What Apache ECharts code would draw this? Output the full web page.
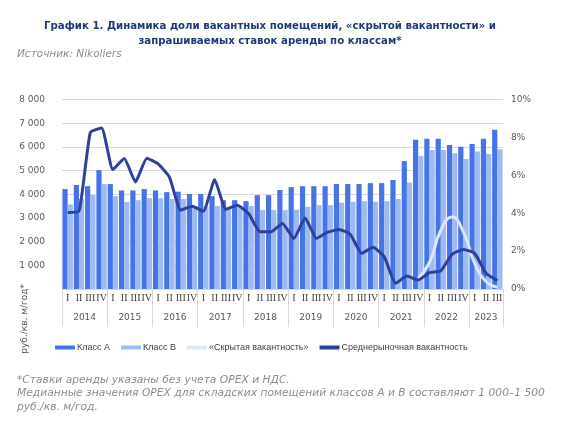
<!DOCTYPE html>
<html>
<head>
<meta charset="utf-8">
<script src="https://cdn.jsdelivr.net/npm/echarts@6/dist/echarts.min.js"></script>
<style>
    html, body { margin: 0; padding: 0; background: #fff; }
    #chart { width: 567px; height: 425px; }
</style>
</head>
<body>
<div id="chart"></div>
<script>
// кварталы и годы
const years = ["2014", "2015", "2016", "2017", "2018", "2019", "2020", "2021", "2022", "2023"];
const quarters = [
    "I", "II", "III", "IV", "I", "II", "III", "IV", "I", "II", "III", "IV",
    "I", "II", "III", "IV", "I", "II", "III", "IV", "I", "II", "III", "IV",
    "I", "II", "III", "IV", "I", "II", "III", "IV", "I", "II", "III", "IV",
    "I", "II", "III"
];

// ставки аренды, руб./кв. м/год
const classA = [
    4220, 4390, 4340, 5020, 4430, 4160, 4160, 4220, 4160, 4090, 4110, 4010,
    4010, 3920, 3750, 3750, 3710, 3960, 3960, 4180, 4300, 4340, 4340, 4340,
    4430, 4430, 4430, 4470, 4470, 4600, 5400, 6300, 6340, 6340, 6080, 6010,
    6120, 6340, 6720
];
const classB = [
    3570, 3800, 3970, 4430, 3920, 3670, 3750, 3830, 3830, 3800, 3800, 3500,
    3470, 3500, 3470, 3470, 3500, 3330, 3330, 3330, 3350, 3470, 3540, 3540,
    3640, 3680, 3710, 3680, 3710, 3800, 4490, 5620, 5870, 5870, 5730, 5490,
    5800, 5700, 5900
];

// вакантность, %
const hiddenVacancy = [
    null, null, null, null, null, null, null, null, null, null, null, null,
    null, null, null, null, null, null, null, null, null, null, null, null,
    null, null, null, null, null, null, null, 0.55, 1.4, 3.1, 3.8, 3.0,
    1.35, 0.4, 0.1
];
const avgVacancy = [
    4.04, 4.1, 8.25, 8.5, 6.3, 6.88, 5.65, 6.9, 6.6, 5.9, 4.16, 4.37,
    4.1, 5.77, 4.2, 4.42, 3.98, 3.02, 3.02, 3.46, 2.67, 3.75, 2.67, 3.0,
    3.14, 2.88, 1.88, 2.2, 1.7, 0.3, 0.68, 0.47, 0.86, 0.96, 1.83, 2.09,
    1.88, 0.83, 0.44
];

const colors = ["#4673E6", "#9DBAF1", "#DCE6F8", "#2E3F9E"];
const labelFont = "DejaVu Sans";

let chart = echarts.init(document.getElementById("chart"));

let options = {
    animation: false,
    color: colors,
    title: [
        {
            text: "График 1. Динамика доли вакантных помещений, «скрытой вакантности» и\nзапрашиваемых ставок аренды по классам*",
            left: 265,
            top: 14,
            textAlign: "center",
            textStyle: {
                fontFamily: labelFont,
                fontSize: 10.2,
                fontWeight: "bold",
                color: "#1F3A7A",
                lineHeight: 15,
            },
        },
        {
            text: "Источник: Nikoliers",
            left: 12,
            top: 44,
            textStyle: {
                fontFamily: labelFont,
                fontSize: 10.5,
                fontWeight: "normal",
                fontStyle: "italic",
                color: "#8C8C8C",
            },
        },
        {
            text: "*Ставки аренды указаны без учета OPEX и НДС.\nМедианные значения OPEX для складских помещений классов А и В составляют 1 000–1 500\nруб./кв. м/год.",
            left: 12,
            top: 368,
            textStyle: {
                fontFamily: labelFont,
                fontSize: 10.7,
                fontWeight: "normal",
                fontStyle: "italic",
                color: "#8C8C8C",
                lineHeight: 13.5,
            },
        },
    ],
    legend: {
        left: 50,
        top: 338,
        itemWidth: 20,
        itemHeight: 4,
        itemGap: 11,
        icon: "rect",
        textStyle: {
            fontFamily: "Liberation Sans",
            fontSize: 9,
            color: "#404040",
            padding: [0, 0, 0, -3],
        },
        data: ["Класс А", "Класс В", "«Скрытая вакантность»", "Среднерыночная вакантность"],
    },
    graphic: [
        {
            type: "text",
            left: 20,
            top: 284,
            rotation: Math.PI / 2,
            style: {
                text: "руб./кв. м/год*",
                fontFamily: labelFont,
                fontSize: 9,
                fill: "#595959",
            },
        },
    ],
    grid: {
        left: 62,
        right: 64,
        top: 99.5,
        bottom: 136,
    },
    xAxis: [
        {
            type: "category",
            data: quarters,
            axisLine: {
                show: true,
                lineStyle: {color: "#D9D9D9", width: 1},
            },
            axisTick: {show: false},
            axisLabel: {
                interval: 0,
                margin: 4,
                fontFamily: "Liberation Serif",
                fontSize: 10,
                color: "#404040",
            },
        },
        {
            type: "category",
            data: quarters,
            position: "bottom",
            axisLine: {show: false},
            axisTick: {
                show: true,
                interval: (i) => i % 4 === 0,
                length: 38,
                lineStyle: {color: "#D9D9D9", width: 1},
            },
            axisLabel: {
                interval: 0,
                margin: 24,
                fontFamily: labelFont,
                fontSize: 9,
                color: "#595959",
                formatter: (val, i) => {
                    if (i < 36 && i % 4 === 1) return "{s|" + years[Math.floor(i / 4)] + "}";
                    if (i === 37) return "{c|" + years[9] + "}";
                    return "";
                },
                rich: {
                    s: {padding: [0, 0, 0, 11.3], fontFamily: labelFont, fontSize: 9, color: "#595959"},
                    c: {fontFamily: labelFont, fontSize: 9, color: "#595959"},
                },
            },
        },
    ],
    yAxis: [
        {
            type: "value",
            min: 0,
            max: 8000,
            interval: 1000,
            axisLine: {show: false},
            axisTick: {show: false},
            splitLine: {lineStyle: {color: "#D9D9D9", width: 1}},
            axisLabel: {
                margin: 17,
                fontFamily: labelFont,
                fontSize: 9,
                color: "#595959",
                formatter: (v) => v === 0 ? "" : String(v).replace(/\B(?=(\d{3})+(?!\d))/g, " "),
            },
        },
        {
            type: "value",
            min: 0,
            max: 10,
            interval: 2,
            position: "right",
            axisLine: {show: false},
            axisTick: {show: false},
            splitLine: {show: false},
            axisLabel: {
                margin: 8,
                fontFamily: labelFont,
                fontSize: 9,
                color: "#595959",
                formatter: "{value}%",
            },
        },
    ],
    series: [
        {
            name: "Класс А",
            type: "bar",
            yAxisIndex: 0,
            barGap: "0%",
            barCategoryGap: "8%",
            data: classA,
        },
        {
            name: "Класс В",
            type: "bar",
            yAxisIndex: 0,
            barGap: "0%",
            barCategoryGap: "8%",
            data: classB,
        },
        {
            name: "«Скрытая вакантность»",
            type: "line",
            yAxisIndex: 1,
            smooth: true,
            symbol: "none",
            lineStyle: {width: 3, color: colors[2]},
            data: hiddenVacancy,
        },
        {
            name: "Среднерыночная вакантность",
            type: "line",
            yAxisIndex: 1,
            smooth: 0.15,
            symbol: "none",
            lineStyle: {width: 3, color: colors[3]},
            data: avgVacancy,
        },
    ],
};

chart.setOption(options);
</script>
</body>
</html>
